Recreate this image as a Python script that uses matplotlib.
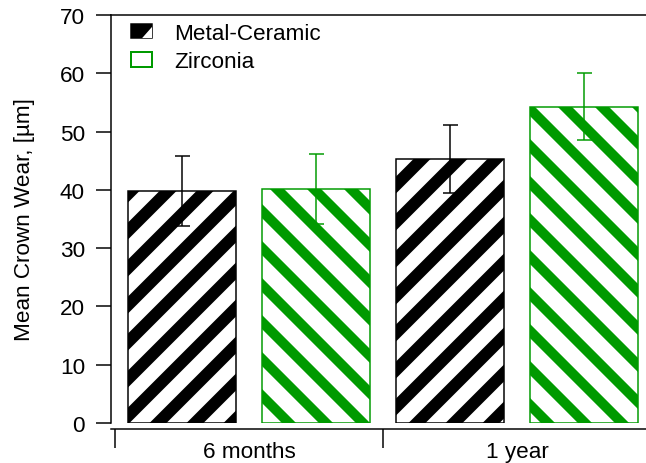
import matplotlib
matplotlib.use('Agg')
import matplotlib.pyplot as plt
from matplotlib.patches import Patch
from matplotlib.lines import Line2D
from matplotlib.path import Path
from matplotlib.transforms import IdentityTransform
import numpy as np

DPI = 100
W, H = 646, 464

def px(v):
    # pixels -> points
    return v * 72.0 / DPI

groups = ['6 months', '1 year']
series = ['Metal-Ceramic', 'Zirconia']
means = {'Metal-Ceramic': [39.8, 45.3], 'Zirconia': [40.2, 54.3]}
errors = {'Metal-Ceramic': [6.0, 5.9], 'Zirconia': [6.0, 5.8]}
colors = {'Metal-Ceramic': '#000000', 'Zirconia': '#009a00'}
# stripe direction (+1 = "/", -1 = "\"), phase and thickness in pixels
stripe_dir = {'Metal-Ceramic': 1, 'Zirconia': -1}
stripe_phase = {'Metal-Ceramic': 7, 'Zirconia': 33}
stripe_w = {'Metal-Ceramic': 12, 'Zirconia': 10}
STRIPE_GAP = 37     # horizontal period, px

plt.rcParams['font.family'] = ['Liberation Sans', 'DejaVu Sans']
fs = px(22.5)

fig = plt.figure(figsize=(W / DPI, H / DPI), dpi=DPI)
# axes in pixel layout: left 111, right 651, top 16, bottom 424
ax = fig.add_axes([111 / W, (H - 424) / H, 540 / W, 408 / H])
ax.set_xlim(-0.53, 3.5)
ax.set_ylim(0, 70)

n = len(series)
for i, s in enumerate(series):
    xs = [g * n + i for g in range(len(groups))]
    bars = ax.bar(xs, means[s], width=0.8, color='white', edgecolor=colors[s],
                  linewidth=px(1.5), zorder=2)
    ax.errorbar(xs, means[s], yerr=errors[s], fmt='none', ecolor=colors[s],
                elinewidth=px(1.5), capsize=px(7.5), capthick=px(1.5), zorder=3)
    # diagonal stripes, drawn in pixel space and clipped to each bar
    d = stripe_dir[s]
    for rect in bars.patches:
        bb = rect.get_window_extent()
        x0, y0, x1, y1 = bb.x0, bb.y0, bb.x1, bb.y1
        if d > 0:
            cmin, cmax = x0 - y1, x1 - y0
        else:
            cmin, cmax = x0 + y0, x1 + y1
        k0 = np.floor((cmin - stripe_phase[s]) / STRIPE_GAP) - 1
        k1 = np.ceil((cmax - stripe_phase[s]) / STRIPE_GAP) + 1
        for k in np.arange(k0, k1 + 1):
            c = stripe_phase[s] + k * STRIPE_GAP
            yy = np.array([y0 - 20, y1 + 20])
            xx = c + d * yy
            ln, = ax.plot(xx, yy, color=colors[s], lw=px(stripe_w[s]),
                          solid_capstyle='butt', transform=IdentityTransform(),
                          zorder=2.5)
            ln.set_clip_path(rect)

ax.set_yticks(range(0, 71, 10))
ax.set_ylabel('Mean Crown Wear, [\u00b5m]', fontsize=fs, labelpad=px(25))

# group boundaries as major ticks, group names on minor ticks
ax.set_xticks([g * n - 0.5 for g in range(len(groups) + 1)])
ax.set_xticklabels([])
ax.set_xticks([g * n + (n - 1) / 2 for g in range(len(groups))], minor=True)
ax.set_xticklabels(groups, minor=True)

ax.tick_params(axis='y', direction='out', length=px(15), width=px(1.5),
               pad=px(11), labelsize=fs)
ax.tick_params(axis='x', which='major', direction='out', length=px(19),
               width=px(1.5))
ax.tick_params(axis='x', which='minor', length=0, pad=px(12), labelsize=fs)

for sp in ['left', 'top', 'bottom']:
    ax.spines[sp].set_linewidth(px(1.5))
ax.spines['right'].set_visible(False)
ax.spines['bottom'].set_position(('outward', px(6)))

# legend swatches: black box with a white corner, green outlined box
corner = Path([(1.6, 0.7), (1.6, -1.0), (0.1, -1.0), (1.6, 0.7)])
mc_box = Patch(facecolor='black', edgecolor='black', linewidth=px(1.5))
mc_corner = Line2D([], [], linestyle='none', marker=corner, markersize=px(21),
                   markerfacecolor='white', markeredgewidth=0)
zr_box = Patch(facecolor='white', edgecolor=colors['Zirconia'], linewidth=px(2))
ax.legend([(mc_box, mc_corner), zr_box], series, loc='upper left',
          bbox_to_anchor=(131 / W, 1 - 24 / H),
          bbox_transform=fig.transFigure, frameon=False, fontsize=fs,
          borderpad=0, borderaxespad=0, handlelength=0.93, handleheight=0.6,
          handletextpad=0.98, labelspacing=0.33)

fig.savefig('out.png', dpi=DPI)
